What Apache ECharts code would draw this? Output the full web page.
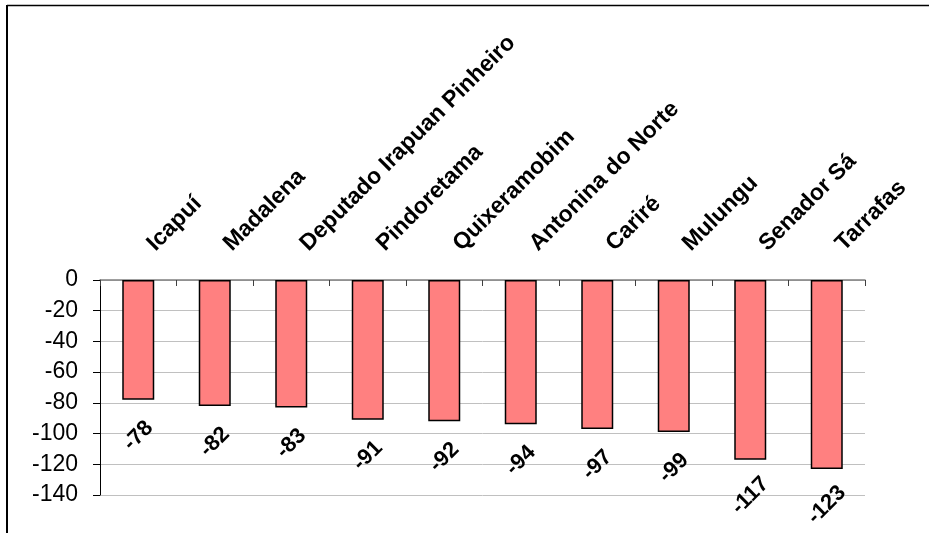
<!DOCTYPE html>
<html>
<head>
<meta charset="utf-8">
<script src="https://cdn.jsdelivr.net/npm/echarts@6/dist/echarts.min.js"></script>
<style>
html,body{margin:0;padding:0;background:#fff;}
#chart{width:929px;height:533px;}
</style>
</head>
<body>
<div id="chart"></div>
<script>
const categories = ["Icapuí","Madalena","Deputado Irapuan Pinheiro","Pindoretama","Quixeramobim","Antonina do Norte","Cariré","Mulungu","Senador Sá","Tarrafas"];
const values = [-78,-82,-83,-91,-92,-94,-97,-99,-117,-123];
const yMin = -140, yMax = 0, yStep = 20;

const FONT = 'Liberation Sans, Arial, sans-serif';
const chart = echarts.init(document.getElementById('chart'));
chart.setOption({
  animation: false,
  backgroundColor: '#fff',
  textStyle: { fontFamily: FONT },
  grid: { left: 100, right: 64, top: 280, bottom: 38, containLabel: false },
  xAxis: {
    type: 'category',
    position: 'top',
    data: categories,
    axisLine: { show: true, onZero: false, lineStyle: { color: '#808080', width: 1.5 } },
    axisTick: { show: true, inside: true, length: 6, lineStyle: { color: '#404040', width: 1 } },
    axisLabel: { rotate: -45, margin: 20, padding: [0, 0, 0, 18], interval: 0, color: '#000', fontSize: 23, fontWeight: 'bold', fontFamily: FONT },
    splitLine: { show: false }
  },
  yAxis: {
    type: 'value',
    min: yMin, max: yMax, interval: yStep,
    axisLine: { show: true, lineStyle: { color: '#000', width: 1 } },
    axisTick: { show: true, inside: false, length: 7, lineStyle: { color: '#000' } },
    axisLabel: { margin: 22, color: '#000', fontSize: 23, fontFamily: FONT },
    splitLine: { show: true, lineStyle: { color: '#c0c0c0', width: 1 } }
  },
  series: [{
    type: 'bar',
    data: values,
    barWidth: 32,
    itemStyle: { color: '#FF8080', borderColor: '#000', borderWidth: 1.5 },
    label: {
      show: true,
      position: 'bottom',
      distance: 36,
      rotate: 45,
      align: 'center',
      verticalAlign: 'middle',
      color: '#000',
      fontSize: 22,
      fontWeight: 'bold',
      fontFamily: FONT
    }
  }],
  graphic: [
    { type: 'line', shape: { x1: 7, y1: 5.5, x2: 929, y2: 5.5 }, style: { stroke: '#000', lineWidth: 1.5 } },
    { type: 'line', shape: { x1: 7, y1: 5, x2: 7, y2: 533 }, style: { stroke: '#000', lineWidth: 2 } }
  ]
});
</script>
</body>
</html>
